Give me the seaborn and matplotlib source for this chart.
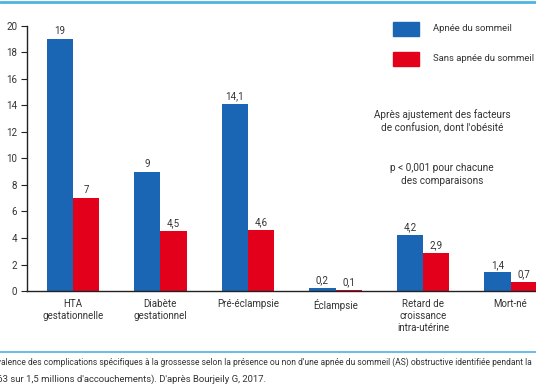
import pandas as pd
import matplotlib
matplotlib.use('Agg')
import matplotlib.pyplot as plt
import seaborn as sns

# Donnees
categories = ["HTA\ngestationnelle", "Diabète\ngestationnel", "Pré-éclampsie",
              "Éclampsie", "Retard de\ncroissance\nintra-utérine", "Mort-né"]
apnee = [19, 9, 14.1, 0.2, 4.2, 1.4]
sans_apnee = [7, 4.5, 4.6, 0.1, 2.9, 0.7]
series = ["Apnée du sommeil", "Sans apnée du sommeil"]
yticks = [0, 2, 4, 6, 8, 10, 12, 14, 16, 18, 20]

df = pd.DataFrame({
    "cat": categories * 2,
    "val": apnee + sans_apnee,
    "serie": [series[0]] * len(categories) + [series[1]] * len(categories),
})

sns.set_theme(style="white")
plt.rcParams['font.family'] = ['Roboto', 'DejaVu Sans']

fig = plt.figure(figsize=(5.36, 3.86), dpi=100)
ax = fig.add_axes([0.05, 0.246, 0.95, 0.687])

palette = {series[0]: "#1a66b5", series[1]: "#e2001a"}
sns.barplot(data=df, x="cat", y="val", hue="serie", palette=palette,
            width=0.6, saturation=1, linewidth=0, ax=ax, legend=False)

# etiquettes de valeur
for cont in ax.containers:
    labels = [f"{v:g}".replace(".", ",") for v in cont.datavalues]
    ax.bar_label(cont, labels=labels, padding=2, fontsize=7, color="#333333")

ax.set_ylim(0, 20)
ax.set_xlim(-0.526, 5.29)
ax.set_yticks(yticks)
ax.set_yticklabels([str(t) for t in yticks], fontsize=7, color="#333333")
ax.tick_params(axis='y', direction='out', length=4, width=0.8, color="#222222", pad=3, left=True)
ax.tick_params(axis='x', length=0, labelsize=7, labelcolor="#333333", pad=6)
ax.set_xlabel("")
ax.set_ylabel("")
sns.despine(ax=ax, top=True, right=True)
for s in ["left", "bottom"]:
    ax.spines[s].set_color("#222222")
    ax.spines[s].set_linewidth(1.0)

# legende manuelle
for name, y in zip(series, [0.925, 0.848]):
    fig.patches.append(plt.Rectangle((0.733, y - 0.018), 0.049, 0.036,
                                     transform=fig.transFigure,
                                     color=palette[name], figure=fig))
    fig.text(0.808, y, name, fontsize=6.8, va="center", color="#333333")

fig.text(0.825, 0.685, "Après ajustement des facteurs\nde confusion, dont l'obésité",
         fontsize=7.2, ha="center", va="center", color="#333333", linespacing=1.3)
fig.text(0.825, 0.548, "p < 0,001 pour chacune\ndes comparaisons",
         fontsize=7.2, ha="center", va="center", color="#333333", linespacing=1.3)

# lignes bleues et legende de figure
fig.add_artist(plt.Line2D([0, 1], [0.995, 0.995], color="#4db3e2", lw=2,
                          transform=fig.transFigure))
fig.add_artist(plt.Line2D([0, 1], [0.088, 0.088], color="#4db3e2", lw=1.2,
                          transform=fig.transFigure))
fig.text(-0.029, 0.062,
         "Prévalence des complications spécifiques à la grossesse selon la présence ou non d'une apnée du sommeil (AS) obstructive identifiée pendant la",
         fontsize=6.15, color="#333333", va="center")
fig.text(-0.014, 0.017, "063 sur 1,5 millions d'accouchements). D'après Bourjeily G, 2017.",
         fontsize=6.8, color="#333333", va="center")

plt.savefig("out.png", dpi=100)
plt.close()
